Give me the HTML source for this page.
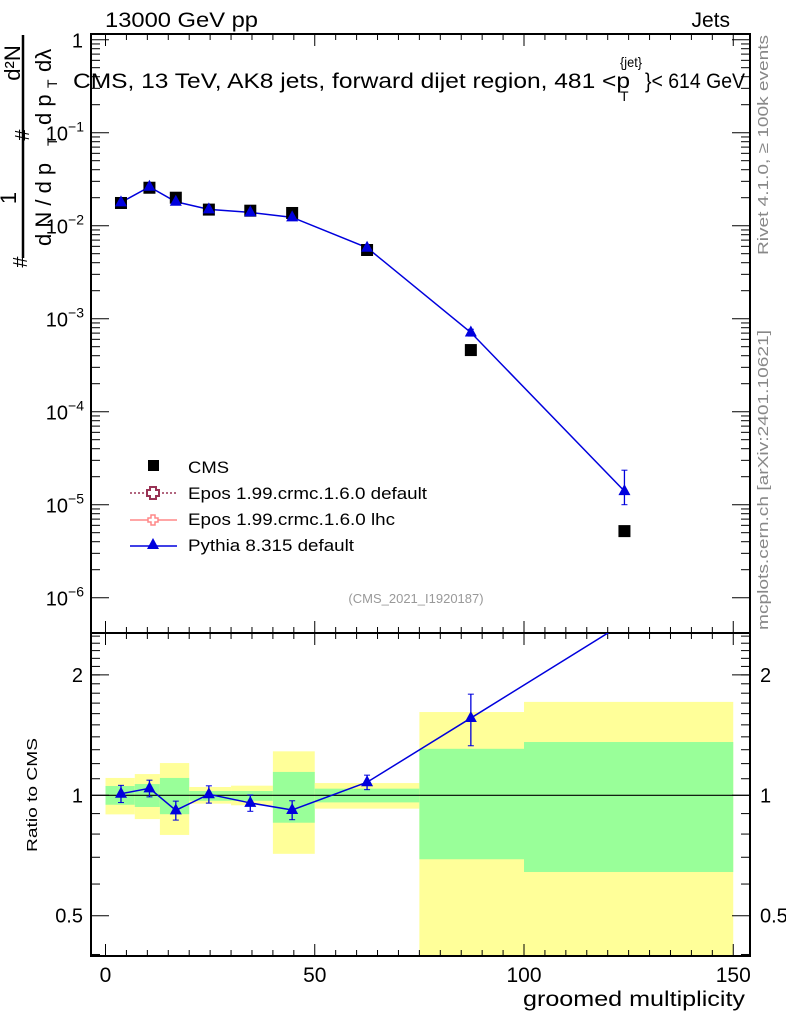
<!DOCTYPE html>
<html><head><meta charset="utf-8"><style>
html,body{margin:0;padding:0;background:#fff;}
svg{display:block;font-family:"Liberation Sans",sans-serif;}
</style></head><body>
<svg id="c" width="786" height="1024" viewBox="0 0 786 1024">
<g id="g"></g>
</svg>
<script>
const xs=[3.7,10.5,16.8,24.7,34.6,44.6,62.5,87.3,124];
const cmsVals=[0.01755,0.0256,0.0200,0.0149,0.0145,0.0137,0.00548,0.00046,0.0000052];
const pyVals=[0.0178,0.0262,0.0181,0.0150,0.0139,0.0123,0.0058,0.00071,0.000014];
const pyErrLo=[0.0007,0.001,0.0008,0.0006,0.0006,0.0006,0.0003,0.00006,0.000004];
const pyErrHi=[0.0007,0.001,0.0008,0.0006,0.0006,0.0006,0.0003,0.00006,0.0000095];
const binEdges=[0,7,13,20,30,40,50,75,100,150];
const yelHi=[1.105,1.130,1.204,1.049,1.057,1.288,1.073,1.615,1.712];
const yelLo=[0.896,0.872,0.796,0.953,0.944,0.714,0.926,0.3,0.3];
const grnHi=[1.055,1.067,1.105,1.025,1.025,1.144,1.039,1.307,1.359];
const grnLo=[0.947,0.935,0.897,0.969,0.969,0.854,0.960,0.692,0.643];
const ratioVals=[1.009,1.041,0.917,1.006,0.957,0.919,1.078,1.560,2.7];
const ratioErr=[0.05,0.05,0.05,0.05,0.045,0.05,0.045,0.23,0.12];
const xTicks=[0,50,100,150];
const mainTickExp=[0,-1,-2,-3,-4,-5,-6];
const ratioTicks=[2,1,0.5];

const NS="http://www.w3.org/2000/svg";
const g=document.getElementById('g');
function el(t,a,txt,parent){const e=document.createElementNS(NS,t);for(const k in a)e.setAttribute(k,a[k]);if(txt!==undefined)e.textContent=txt;(parent||g).appendChild(e);return e;}
const L=91,R=750,T=34,MB=633,B=956;
const X=v=>105.5+v*4.185;
const Y=v=>39.7-Math.log10(v)*93;
const YR=v=>795.3-Math.log10(v)*400;
const cl=(y,a,b)=>Math.max(a,Math.min(b,y));

// ratio bands
for(let i=0;i<binEdges.length-1;i++){
  const x0=X(binEdges[i]),x1=X(binEdges[i+1]);
  let yt=cl(YR(yelHi[i]),MB,B),yb=cl(YR(yelLo[i]),MB,B);
  let r=el('rect',{x:x0,y:yt,width:x1-x0,height:yb-yt,fill:'#ffff99'});
  
  
  yt=cl(YR(grnHi[i]),MB,B);yb=cl(YR(grnLo[i]),MB,B);
  r=el('rect',{x:x0,y:yt,width:x1-x0,height:yb-yt,fill:'#99ff99'});
  
  
}
el('line',{x1:L,x2:R,y1:YR(1),y2:YR(1),stroke:'#000','stroke-width':1.2,});

// frames
el('rect',{x:L,y:T,width:R-L,height:MB-T,fill:'none',stroke:'#000','stroke-width':2,});
el('rect',{x:L,y:MB,width:R-L,height:B-MB,fill:'none',stroke:'#000','stroke-width':2,});

// x ticks
for(let v=0;v<=150;v+=5){
  const x=X(v),maj=v%50===0,len=maj?12:6;
  [[T,1],[MB,-1],[MB,1],[B,-1]].forEach(([y,d])=>el('line',{x1:x,x2:x,y1:y,y2:y+d*len,stroke:'#000','stroke-width':1}));
}
xTicks.forEach(v=>{const t=el('text',{x:X(v),y:982,'font-size':21,'text-anchor':'middle'},String(v));
});
el('text',{x:523,y:1006,'font-size':21,textLength:222,'lengthAdjust':'spacingAndGlyphs',},'groomed multiplicity');

// main y ticks
for(let e=0;e>=-6;e--){
  for(let m=1;m<10;m++){
    const y=Y(m*Math.pow(10,e)); if(y>MB||y<T) continue;
    const len=m===1?18:9;
    el('line',{x1:L,x2:L+len,y1:y,y2:y,stroke:'#000'});
    el('line',{x1:R,x2:R-len,y1:y,y2:y,stroke:'#000'});
  }
}
mainTickExp.forEach(e=>{
  const y=Y(Math.pow(10,e));
  let t;
  if(e===0){t=el('text',{x:83,y:y+8,'font-size':20,'text-anchor':'end'},'1');}
  else{t=el('text',{x:84,y:y+8,'font-size':20,'text-anchor':'end'});
    el('tspan',{},'10',t);el('tspan',{'font-size':14,dy:-9},'\u2212'+(-e),t);}
  
});

// ratio y ticks
[0.4,0.5,0.6,0.7,0.8,0.9,1,2].forEach(v=>{const y=YR(v);const maj=(v===1||v===2||v===0.5);const len=maj?18:9;
  el('line',{x1:L,x2:L+len,y1:y,y2:y,stroke:'#000'});el('line',{x1:R,x2:R-len,y1:y,y2:y,stroke:'#000'});});
for(let v=1.1;v<2.55;v+=0.1){const y=YR(v);if(y<MB)continue;el('line',{x1:L,x2:L+9,y1:y,y2:y,stroke:'#000'});el('line',{x1:R,x2:R-9,y1:y,y2:y,stroke:'#000'});}
ratioTicks.forEach(v=>{
  let t=el('text',{x:83,y:YR(v)+7,'font-size':20,'text-anchor':'end'},String(v));
  
  t=el('text',{x:760,y:YR(v)+7,'font-size':20,'text-anchor':'start'},String(v));
  
});
el('text',{x:0,y:0,'font-size':15,textLength:114,'lengthAdjust':'spacingAndGlyphs',transform:'translate(37,852) rotate(-90)',},'Ratio to CMS');

// titles
el('text',{x:105,y:27,'font-size':21,textLength:153,'lengthAdjust':'spacingAndGlyphs',},'13000 GeV pp');
el('text',{x:730,y:27,'font-size':21,'text-anchor':'end',},'Jets');
const tg=el('g',{});
el('text',{x:73,y:88,'font-size':21,textLength:557,'lengthAdjust':'spacingAndGlyphs'},'CMS, 13 TeV, AK8 jets, forward dijet region, 481 <p',tg);
el('text',{x:620,y:67,'font-size':14,textLength:22,'lengthAdjust':'spacingAndGlyphs'},'{jet}',tg);
el('text',{x:620,y:101,'font-size':14},'T',tg);
el('text',{x:645,y:88,'font-size':21,textLength:100,'lengthAdjust':'spacingAndGlyphs'},'}< 614 GeV',tg);
el('text',{x:0,y:0,'font-size':15,fill:'#888',textLength:220,'lengthAdjust':'spacingAndGlyphs',transform:'translate(768,255) rotate(-90)',},'Rivet 4.1.0, \u2265 100k events');
el('text',{x:0,y:0,'font-size':15,fill:'#888',textLength:300,'lengthAdjust':'spacingAndGlyphs',transform:'translate(768,630) rotate(-90)',},'mcplots.cern.ch [arXiv:2401.10621]');
el('text',{x:416,y:603,'font-size':13,fill:'#999','text-anchor':'middle',},'(CMS_2021_I1920187)');

// y axis title (main)
const yt=el('g',{});
el('line',{x1:23,x2:23,y1:35,y2:258,stroke:'#000','stroke-width':2.5},undefined,yt);
el('text',{x:0,y:0,'font-size':22,transform:'translate(20,63) rotate(-90)','text-anchor':'middle'},'d²N',yt);
el('text',{x:0,y:0,'font-size':22,transform:'translate(16,198) rotate(-90)','text-anchor':'middle'},'1',yt);
el('text',{x:0,y:0,'font-size':22,transform:'translate(51,125) rotate(-90)'},'d p',yt);
el('text',{x:0,y:0,'font-size':14,transform:'translate(57,88) rotate(-90)'},'T',yt);
el('text',{x:0,y:0,'font-size':22,transform:'translate(51,72) rotate(-90)'},'d\u03bb',yt);
el('text',{x:0,y:0,'font-size':20,transform:'translate(29,135) rotate(-90)','text-anchor':'middle'},'#',yt);
el('text',{x:0,y:0,'font-size':22,transform:'translate(51,246) rotate(-90)'},'d N / d p',yt);
el('text',{x:0,y:0,'font-size':14,transform:'translate(57,146) rotate(-90)'},'T',yt);
el('text',{x:0,y:0,'font-size':20,transform:'translate(27,262) rotate(-90)','text-anchor':'middle'},'#',yt);

// pythia main line
const pts=xs.map((x,i)=>X(x)+','+Y(pyVals[i])).join(' ');
el('polyline',{points:pts,fill:'none',stroke:'#0000dd','stroke-width':1.5,});
function tri(x,y,name){const p=el('polygon',{points:`${x},${y-7} ${x-6},${y+4} ${x+6},${y+4}`,fill:'#0000dd'});
 }
xs.forEach((x,i)=>{
  const px=X(x);
  const yhi=Y(pyVals[i]+pyErrHi[i]),ylo=Y(pyVals[i]-pyErrLo[i]);
  el('line',{x1:px,x2:px,y1:yhi,y2:ylo,stroke:'#0000dd','stroke-width':1.3});
  el('line',{x1:px-3,x2:px+3,y1:yhi,y2:yhi,stroke:'#0000dd'});el('line',{x1:px-3,x2:px+3,y1:ylo,y2:ylo,stroke:'#0000dd'});
  const s=el('rect',{x:px-6,y:Y(cmsVals[i])-6,width:12,height:12,fill:'#000'});
  
  
  tri(px,Y(pyVals[i]),'pythia-point');
});

// ratio line
const cp=document.createElementNS(NS,'clipPath');cp.setAttribute('id','rc');g.appendChild(cp);
el('rect',{x:L,y:MB,width:R-L,height:B-MB},undefined,cp);
const rg=el('g',{'clip-path':'url(#rc)',});
el('polyline',{points:xs.map((x,i)=>X(x)+','+YR(ratioVals[i])).join(' '),fill:'none',stroke:'#0000dd','stroke-width':1.5},undefined,rg);
xs.forEach((x,i)=>{
  const px=X(x),yhi=YR(ratioVals[i]+ratioErr[i]),ylo=YR(ratioVals[i]-ratioErr[i]);
  el('line',{x1:px,x2:px,y1:yhi,y2:ylo,stroke:'#0000dd','stroke-width':1.3},undefined,rg);
  el('line',{x1:px-3,x2:px+3,y1:yhi,y2:yhi,stroke:'#0000dd'},undefined,rg);el('line',{x1:px-3,x2:px+3,y1:ylo,y2:ylo,stroke:'#0000dd'},undefined,rg);
  const y=YR(ratioVals[i]);
  const p=el('polygon',{points:`${px},${y-7} ${px-6},${y+4} ${px+6},${y+4}`,fill:'#0000dd'},undefined,rg);
  
  
});

// legend
const lg=el('g',{});
el('rect',{x:148,y:460,width:11,height:11,fill:'#000'},undefined,lg);
el('text',{x:188,y:473,'font-size':17,textLength:41,'lengthAdjust':'spacingAndGlyphs'},'CMS',lg);
el('line',{x1:130,x2:177,y1:493,y2:493,stroke:'#993355','stroke-dasharray':'2,2','stroke-width':1.5},undefined,lg);
el('path',{d:'M150,487h6v3h3v6h-3v3h-6v-3h-3v-6h3z',fill:'#fff',stroke:'#993355','stroke-width':2},undefined,lg);
el('text',{x:188,y:499,'font-size':17,textLength:239,'lengthAdjust':'spacingAndGlyphs'},'Epos 1.99.crmc.1.6.0 default',lg);
el('line',{x1:130,x2:177,y1:520,y2:520,stroke:'#ff8888','stroke-width':1.5},undefined,lg);
el('path',{d:'M151,515h4v3h3v4h-3v3h-4v-3h-3v-4h3z',fill:'#fff',stroke:'#ff8888','stroke-width':1.5},undefined,lg);
el('text',{x:188,y:525,'font-size':17,textLength:207,'lengthAdjust':'spacingAndGlyphs'},'Epos 1.99.crmc.1.6.0 lhc',lg);
el('line',{x1:130,x2:177,y1:546,y2:546,stroke:'#0000dd','stroke-width':1.5},undefined,lg);
el('polygon',{points:'153,538 147,549 159,549',fill:'#0000dd'},undefined,lg);
el('text',{x:188,y:551,'font-size':17,textLength:166,'lengthAdjust':'spacingAndGlyphs'},'Pythia 8.315 default',lg);
</script>
</body></html>
